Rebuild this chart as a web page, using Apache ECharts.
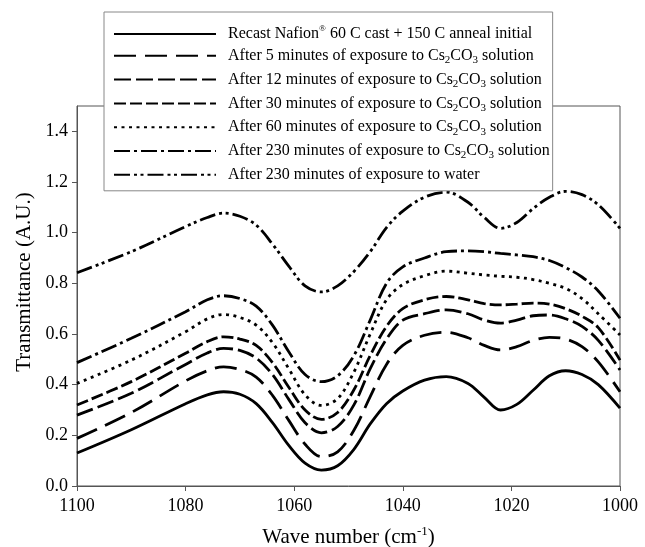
<!DOCTYPE html>
<html>
<head>
<meta charset="utf-8">
<script src="https://cdn.jsdelivr.net/npm/echarts@6/dist/echarts.min.js"></script>
<style>
html, body { margin: 0; padding: 0; background: #fff; }
#main { width: 645px; height: 547px; }
</style>
</head>
<body>
<div id="main"></div>
<script>
var waveNumbers = [1100, 1090, 1080, 1076, 1073, 1070, 1067, 1064, 1061, 1058, 1055, 1052, 1049, 1046, 1043, 1040, 1036, 1032, 1028, 1025, 1022, 1019, 1016, 1013, 1010, 1007, 1004, 1000];

var initial = [0.13, 0.222, 0.325, 0.36, 0.372, 0.362, 0.325, 0.25, 0.16, 0.09, 0.063, 0.08, 0.145, 0.245, 0.325, 0.375, 0.418, 0.432, 0.405, 0.35, 0.30, 0.322, 0.378, 0.435, 0.455, 0.44, 0.40, 0.307];
var min5 = [0.188, 0.29, 0.415, 0.455, 0.47, 0.46, 0.43, 0.358, 0.259, 0.165, 0.116, 0.135, 0.22, 0.353, 0.48, 0.555, 0.595, 0.607, 0.585, 0.555, 0.537, 0.55, 0.575, 0.587, 0.58, 0.55, 0.49, 0.372];
var min12 = [0.28, 0.366, 0.48, 0.525, 0.543, 0.535, 0.505, 0.44, 0.342, 0.25, 0.21, 0.235, 0.32, 0.463, 0.58, 0.655, 0.68, 0.695, 0.68, 0.655, 0.643, 0.655, 0.672, 0.675, 0.66, 0.63, 0.575, 0.458];
var min30 = [0.32, 0.412, 0.524, 0.57, 0.589, 0.58, 0.555, 0.487, 0.39, 0.30, 0.263, 0.29, 0.38, 0.515, 0.63, 0.70, 0.735, 0.748, 0.735, 0.72, 0.715, 0.718, 0.722, 0.718, 0.70, 0.67, 0.625, 0.497];
var min60 = [0.405, 0.497, 0.609, 0.66, 0.677, 0.665, 0.635, 0.566, 0.463, 0.36, 0.318, 0.345, 0.45, 0.60, 0.735, 0.795, 0.83, 0.848, 0.84, 0.833, 0.828, 0.824, 0.815, 0.80, 0.78, 0.74, 0.68, 0.596];
var min230 = [0.487, 0.583, 0.688, 0.735, 0.751, 0.74, 0.71, 0.635, 0.53, 0.44, 0.412, 0.435, 0.515, 0.655, 0.80, 0.865, 0.90, 0.925, 0.928, 0.925, 0.918, 0.912, 0.905, 0.89, 0.862, 0.825, 0.77, 0.662];
var water = [0.842, 0.925, 1.024, 1.06, 1.077, 1.065, 1.03, 0.955, 0.868, 0.79, 0.766, 0.79, 0.847, 0.925, 1.02, 1.085, 1.14, 1.16, 1.12, 1.06, 1.017, 1.04, 1.095, 1.14, 1.163, 1.15, 1.11, 1.017];

var seriesNames = [
    'Recast Nafion® 60 C cast + 150 C anneal initial',
    'After 5 minutes of exposure to Cs₂CO₃ solution',
    'After 12 minutes of exposure to Cs₂CO₃ solution',
    'After 30 minutes of exposure to Cs₂CO₃ solution',
    'After 60 minutes of exposure to Cs₂CO₃ solution',
    'After 230 minutes of exposure to Cs₂CO₃ solution',
    'After 230 minutes of exposure to water'
];
var seriesValues = [initial, min5, min12, min30, min60, min230, water];
var dashes = ['solid', [22, 9], [17, 5], [12, 4], [3, 4.5], [16, 4, 3, 4], [16, 4, 3, 3.5, 3, 4]];

var yTicks = [0, 0.2, 0.4, 0.6, 0.8, 1.0, 1.2, 1.4];
var xTicks = [1100, 1080, 1060, 1040, 1020, 1000];

var serif = '"Liberation Serif", "Times New Roman", serif';

function pairs(ys) {
    var out = [];
    for (var i = 0; i < waveNumbers.length; i++) {
        out.push([waveNumbers[i], ys[i]]);
    }
    return out;
}

// legend text with sub/superscripts as rich text
function legendText(name) {
    var s = '{g| }';
    var buf = '';
    for (var i = 0; i < name.length; i++) {
        var c = name[i];
        if (c == '₂' || c == '₃' || c == '®') {
            if (buf) s += '{n|' + buf + '}';
            buf = '';
            if (c == '®') s += '{sup|®}';
            else s += '{sub|' + (c == '₂' ? '2' : '3') + '}';
        } else {
            buf += c;
        }
    }
    if (buf) s += '{n|' + buf + '}';
    return s;
}

var series = [];
for (var k = 0; k < seriesNames.length; k++) {
    series.push({
        name: seriesNames[k],
        type: 'line',
        data: pairs(seriesValues[k]),
        smooth: 0.35,
        symbol: 'none',
        lineStyle: { color: '#000', width: 2.8, type: dashes[k] },
        itemStyle: { color: '#000' },
        z: 2
    });
}

var chart = echarts.init(document.getElementById('main'), null, { renderer: 'canvas' });
chart.setOption({
    animation: false,
    backgroundColor: '#fff',
    grid: {
        left: 77, right: 25, top: 106, bottom: 61,
        containLabel: false,
        outerBoundsMode: 'none',
        show: true, borderColor: '#555', borderWidth: 1, backgroundColor: 'transparent'
    },
    legend: {
        orient: 'vertical',
        left: 104,
        top: 12,
        padding: [12, 3, 8, 9],
        itemWidth: 102,
        itemHeight: 14,
        itemGap: 5.8,
        selectedMode: false,
        backgroundColor: '#fff',
        borderColor: '#888',
        borderWidth: 1,
        z: 10,
        itemStyle: { opacity: 0 },
        data: seriesNames,
        formatter: legendText,
        textStyle: {
            color: '#000',
            fontFamily: serif,
            fontSize: 16,
            rich: {
                g: { width: 7, fontSize: 16, lineHeight: 20, fontFamily: serif },
                n: { fontSize: 16, lineHeight: 20, fontFamily: serif, color: '#000' },
                sub: { fontSize: 11, lineHeight: 11, verticalAlign: 'bottom', fontFamily: serif, color: '#000' },
                sup: { fontSize: 9, lineHeight: 11, verticalAlign: 'top', fontFamily: serif, color: '#000' }
            }
        }
    },
    xAxis: {
        type: 'value',
        inverse: true,
        min: 1000,
        max: 1100,
        interval: 20,
        name: '{n|Wave number (cm}{sup|-1}{n|)}',
        nameLocation: 'middle',
        nameGap: 39,
        nameTextStyle: {
            rich: {
                n: { fontSize: 21, lineHeight: 24, fontFamily: serif, color: '#000' },
                sup: { fontSize: 13, lineHeight: 13, verticalAlign: 'top', fontFamily: serif, color: '#000' }
            }
        },
        axisLine: { lineStyle: { color: '#555', width: 1 } },
        axisTick: { show: true, inside: false, length: 5, customValues: xTicks, lineStyle: { color: '#555' } },
        axisLabel: {
            customValues: xTicks, fontFamily: serif, fontSize: 18, color: '#000', margin: 11,
            formatter: function (v) { return String(v); }
        },
        splitLine: { show: false }
    },
    yAxis: {
        type: 'value',
        min: 0,
        max: 1.5,
        name: 'Transmittance (A.U.)',
        nameLocation: 'middle',
        nameGap: 41,
        nameTextStyle: { fontFamily: serif, fontSize: 21, color: '#000', padding: [0, 0, 0, 28] },
        axisLine: { show: true, lineStyle: { color: '#555', width: 1 } },
        axisTick: { show: true, inside: false, length: 5, customValues: yTicks, lineStyle: { color: '#555' } },
        axisLabel: {
            customValues: yTicks,
            fontFamily: serif, fontSize: 18, color: '#000', margin: 9,
            formatter: function (v) { return v.toFixed(1); }
        },
        splitLine: { show: false }
    },
    series: series
});
</script>
</body>
</html>
